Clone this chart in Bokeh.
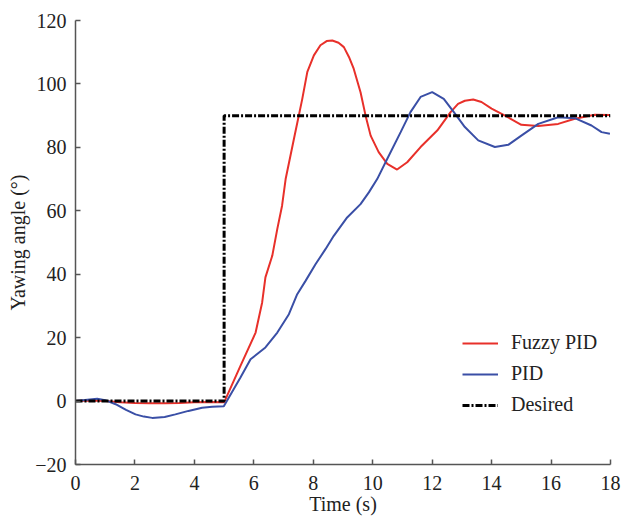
from bokeh.plotting import figure
from bokeh.embed import file_html
from bokeh.resources import INLINE
from bokeh.models import Range1d, FixedTicker

# ---- data ----
t_fuzzy = [0.0, 0.5, 1.0, 1.5, 2.0, 2.5, 3.0, 3.5, 4.0, 4.5, 5.0,
           5.55, 6.06, 6.28, 6.39, 6.62, 6.79, 6.95, 7.07, 7.35, 7.63, 7.8, 8.02, 8.24, 8.45, 8.64,
           8.85, 9.03, 9.2, 9.36, 9.59, 9.76, 9.93, 10.2, 10.49, 10.82, 11.16, 11.61,
           12.17, 12.62, 12.87, 13.1, 13.38, 13.66, 14.0, 14.45, 15.0,
           15.57, 16.24, 16.8, 17.47, 17.98]
y_fuzzy = [0.0, 0.2, 0.0, -0.4, -0.6, -0.7, -0.7, -0.6, -0.4, -0.3, -0.4,
           11.1, 21.6, 31.1, 39.0, 45.8, 54.3, 61.6, 70.0, 82.7, 95.3, 103.8, 109.0, 112.2, 113.5, 113.7,
           113.0, 111.6, 108.5, 104.8, 97.4, 90.0, 83.7, 78.5, 74.8, 73.0, 75.3, 80.1,
           85.3, 91.1, 93.7, 94.7, 95.1, 94.3, 92.2, 90.0, 87.1,
           86.7, 87.4, 89.0, 90.3, 90.2]

t_pid = [0.0, 0.4, 0.73, 1.0, 1.35, 1.7, 2.02, 2.3, 2.58, 3.0, 3.36, 3.8, 4.26, 4.6, 4.99,
         5.55, 5.89, 6.39, 6.79, 7.18, 7.46, 7.74, 8.08, 8.41, 8.69, 9.14, 9.59, 9.87, 10.15,
         10.49, 10.94, 11.27, 11.61, 12.0, 12.39, 12.73, 13.1, 13.55, 14.11, 14.56, 15.0,
         15.57, 16.24, 16.8, 17.36, 17.7, 17.98]
y_pid = [0.0, 0.4, 0.7, 0.3, -1.0, -2.8, -4.2, -4.9, -5.3, -5.0, -4.2, -3.1, -2.1, -1.8, -1.6,
         7.4, 13.2, 16.9, 21.6, 27.4, 33.7, 37.9, 43.2, 47.9, 52.1, 57.9, 62.1, 65.8, 70.0,
         76.4, 84.8, 91.1, 95.9, 97.4, 95.3, 91.1, 86.4, 82.2, 80.1, 80.8, 83.7,
         87.4, 89.5, 89.2, 86.9, 84.8, 84.3]

t_desired = [0.0, 5.0, 5.0, 18.0]
y_desired = [0.0, 0.0, 90.0, 90.0]

x_ticks = [0, 2, 4, 6, 8, 10, 12, 14, 16, 18]
y_ticks = [-20, 0, 20, 40, 60, 80, 100, 120]

FONT = "Liberation Serif"
FS = "20px"

p = figure(width=622, height=518, output_backend="svg", toolbar_location=None,
           x_range=Range1d(0, 18), y_range=Range1d(-20, 120),
           min_border_left=75, min_border_right=12, min_border_top=20,
           min_border_bottom=54)
p.outline_line_color = None
p.grid.visible = False

p.line(t_fuzzy, y_fuzzy, color="#e8302a", line_width=2, legend_label="Fuzzy PID")
p.line(t_pid, y_pid, color="#3a4fa6", line_width=2, legend_label="PID")
p.line(t_desired, y_desired, color="black", line_width=3, line_dash="7 2 2 2",
       legend_label="Desired")

for ax in (p.xaxis[0], p.yaxis[0]):
    ax.axis_line_color = "#555555"
    ax.axis_line_width = 1.5
    ax.major_tick_line_color = "#555555"
    ax.major_tick_line_width = 1.5
    ax.major_tick_in = 5
    ax.major_tick_out = 0
    ax.minor_tick_line_color = None
    ax.major_label_text_font = FONT
    ax.major_label_text_font_size = FS
    ax.major_label_text_color = "#222222"
    ax.axis_label_text_font = FONT
    ax.axis_label_text_font_size = FS
    ax.axis_label_text_font_style = "normal"
    ax.axis_label_text_color = "#222222"

p.xaxis.ticker = FixedTicker(ticks=x_ticks)
p.yaxis.ticker = FixedTicker(ticks=y_ticks)
p.yaxis.major_label_overrides = {-20: "\u221220"}
p.xaxis.axis_label = "Time (s)"
p.yaxis.axis_label = "Yawing angle (°)"
p.xaxis.major_label_standoff = 11
p.xaxis.axis_label_standoff = 0
p.yaxis.major_label_standoff = 9
p.yaxis.axis_label_standoff = 3

lg = p.legend[0]
lg.location = (387, 48)
lg.border_line_color = None
lg.background_fill_alpha = 0
lg.padding = 0
lg.margin = 0
lg.spacing = 8
lg.glyph_width = 36
lg.glyph_height = 20
lg.label_height = 20
lg.label_standoff = 13
lg.label_text_font = FONT
lg.label_text_font_size = FS
lg.label_text_color = "#222222"

open("out.html", "w").write(file_html(p, INLINE))
